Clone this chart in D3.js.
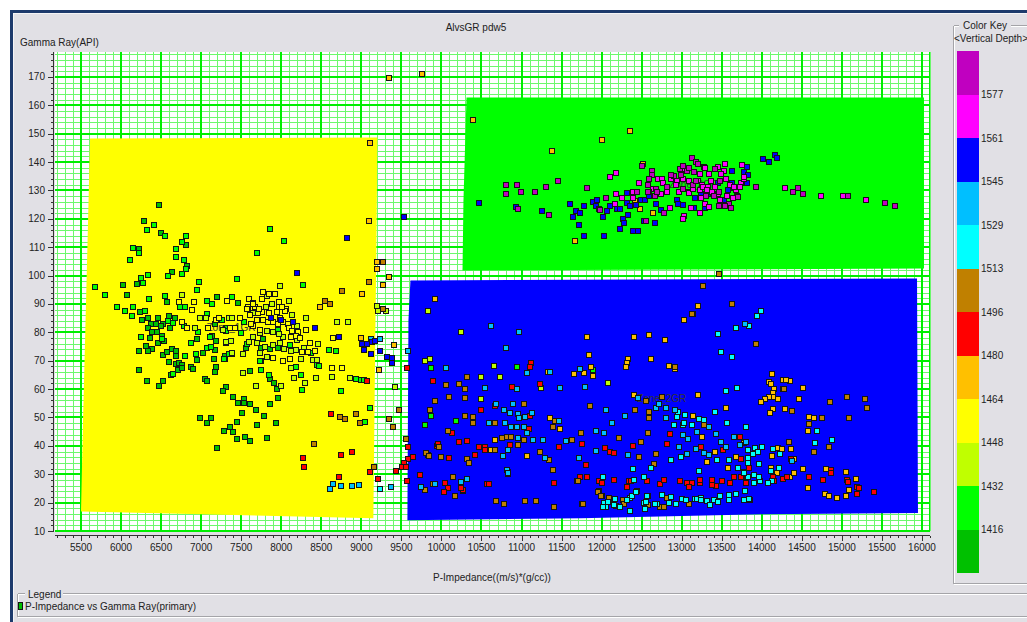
<!DOCTYPE html>
<html>
<head>
<meta charset="utf-8">
<script src="https://cdn.jsdelivr.net/npm/d3@7"></script>
<style>
  html, body { margin: 0; padding: 0; background: #ffffff; }
  svg { display: block; font-family: "Liberation Sans", Arial, sans-serif; }
</style>
</head>
<body>
<svg id="chart" width="1027" height="622"></svg>
<script>
// ---- Axis ticks ----
const impedanceTicks = d3.range(5500, 16001, 500);
const gammaTicks = d3.range(10, 171, 10);

// ---- Colour key (top to bottom) ----
const keyBreaks = [1577, 1561, 1545, 1529, 1513, 1496, 1480, 1464, 1448, 1432, 1416];
const keyColors = ["#c000c0", "#ff00ff", "#0000ff", "#00bfff", "#00ffff", "#c08000",
                   "#ff0000", "#ffc000", "#ffff00", "#c0ff00", "#00ff00", "#00c000"];

// ---- Zone outlines: [P-Impedance, Gamma Ray] ----
const zone1Outline = [[5613,148.3],[9200,148.7],[9188,108.9],[9175,80.7],[9163,49.0],[9150,14.5],[5500,16.9],[5525,49.0],[5563,91.3],[5588,119.5]];
const zone2Outline = [[9613,98.3],[15938,99.0],[15950,16.3],[13988,15.9],[11738,14.5],[9575,13.8],[9588,84.2]];
const zone3Outline = [[10313,162.8],[16025,162.8],[16025,102.5],[10263,101.8],[10275,126.5]];
const zoneNames = ["Zone_1GR", "Zone_2GR", "Zone_3GR"];
const zoneFills = ["#ffff00", "#0000ff", "#00ff00"];

// ---- Samples [P-Impedance, Gamma Ray], grouped by vertical depth ----
const depth1408 = [[6475,124.8],[6288,119.4],[6500,114.9],[6813,110.7],[6225,109.3],[6825,103.5],[6638,101.3],[6200,97.1],[6025,96.7],[6075,93.2],[6575,90.8],[6238,87.0],[6263,84.5],[6338,84.9],[6463,85.2],[6375,83.1],[6438,83.1],[6338,81.7],[6388,80.0],[6450,80.0],[6363,77.9],[6513,78.6],[6538,76.8],[6463,76.1],[6388,74.0],[6313,75.1],[6338,73.3],[6225,73.3],[6525,83.1],[6600,85.9],[6613,81.7],[6525,71.9],[6575,73.0],[6638,74.0],[6688,73.3],[6688,71.6],[6600,69.5],[6688,68.7],[6725,69.1],[6763,68.4],[6713,66.6],[6763,67.3],[6875,67.7],[6900,67.0],[6225,66.6],[6625,64.9],[6325,62.8],[6525,62.8],[6475,61.0],[6950,77.5],[6950,70.2],[7025,72.6],[7175,73.7],[7163,70.5],[7188,67.7],[7175,66.0],[7050,63.5],[7075,62.8],[7313,60.7],[7275,59.2],[6988,49.7],[7125,49.7],[7075,48.0],[7288,45.1],[7200,39.1],[7138,78.6],[7188,76.8],[7200,92.3],[7175,83.1],[7300,71.6],[6675,84.9],[6500,82.1],[7950,60.0],[7963,56.8],[7863,54.6],[7613,54.6],[7538,56.4],[7538,55.0],[7400,57.1],[7463,55.0],[7688,52.5],[7788,50.4],[7450,48.3],[7700,47.2],[7938,47.9],[7363,46.5],[7400,44.8],[7450,42.3],[7550,43.3],[7613,41.6],[7825,42.6],[7613,66.3],[7863,63.5],[7913,62.1],[7513,51.5],[7963,74.4],[7863,74.0],[7775,77.5],[7750,74.4],[7563,74.4],[7463,90.5],[7300,70.5]];
const depth1424 = [[6413,117.7],[6325,116.0],[6550,113.9],[6813,113.9],[6763,111.8],[6150,109.6],[6225,107.8],[6688,109.3],[6688,106.5],[6113,105.6],[6788,105.6],[6813,102.4],[6763,100.6],[6588,99.9],[6338,100.3],[6250,99.2],[6275,97.4],[5675,96.0],[6975,97.8],[6950,95.0],[5800,93.2],[6350,91.8],[6550,92.9],[5950,89.1],[6150,89.1],[6050,87.7],[6138,85.6],[6300,87.7],[6250,78.2],[6513,77.5],[6588,84.1],[6650,83.4],[6800,71.6],[6650,65.2],[6788,82.1],[6875,76.1],[6963,80.3],[6938,72.3],[7075,74.4],[7125,74.7],[7113,78.2],[7075,86.3],[7138,90.1],[7075,91.2],[7263,84.5],[7313,81.4],[7288,70.5],[6738,89.1],[6800,89.1],[8250,64.9],[8263,59.6],[7750,66.6],[7750,69.8],[7850,64.9],[8188,67.7],[8450,68.4],[8475,68.1],[8113,75.4],[7963,81.0],[7738,69.8],[7575,75.8],[7538,83.5],[7500,79.6],[7325,81.4],[7313,80.4],[7388,92.3],[7350,72.3],[7388,72.3],[7863,116.3],[8038,112.1],[7700,107.8],[7450,98.7],[8275,96.6],[8600,73.7],[8688,73.3],[8375,72.6],[8938,63.5],[9000,63.2],[9038,63.2],[8750,59.2],[9113,53.5],[9050,48.5],[9875,67.3],[10938,67.7],[9875,50.4],[9800,47.2],[10188,48.9],[11888,66.6]];
const depth1440 = [[6763,93.0],[6925,81.7],[6988,84.9],[7063,84.9],[7313,76.1],[7350,84.9],[7275,80.7],[7988,96.2],[7825,92.7],[8100,91.2],[7813,88.8],[7650,86.7],[8200,82.4],[8200,77.2],[8025,78.2],[7975,79.3],[7900,80.0],[7825,80.4],[7738,79.6],[7650,78.2],[7600,76.5],[7700,76.1],[7800,74.7],[7900,75.4],[7988,76.1],[8038,74.0],[8125,73.3],[8188,73.7],[8288,74.4],[8250,70.5],[7825,71.2],[7738,72.6],[7525,72.3],[7388,72.6],[7375,76.8],[7313,76.5],[7388,84.9],[7888,90.1],[8138,86.0],[8400,70.2],[8438,63.8],[8300,62.1],[8163,63.8],[8638,64.2],[8863,63.8],[8463,75.8],[8313,85.2],[8700,83.5],[8838,83.5],[8450,70.2],[7688,61.0],[8000,61.0],[7525,65.6],[8125,67.3],[9200,89.4],[9213,87.7],[9313,87.4],[9800,69.8],[9838,87.4],[9425,60.6],[10250,80.0],[9863,70.5],[10500,64.1],[10725,64.1],[10650,68.0],[11238,60.3],[10500,56.4],[12075,62.1]];
const depth1456 = [[6725,90.8],[6913,90.8],[6888,88.0],[6763,83.5],[6825,81.4],[7188,84.2],[7225,85.2],[7325,91.2],[7088,81.7],[7925,93.4],[7850,93.4],[7763,91.6],[7600,91.6],[7650,90.5],[7588,88.8],[7575,88.1],[7675,89.1],[7975,90.8],[7975,88.8],[8063,88.4],[8050,87.4],[7950,87.0],[7763,87.0],[7713,86.7],[7613,86.0],[7700,84.5],[7775,84.5],[7838,83.8],[7900,83.5],[7963,82.8],[7988,84.9],[8088,83.1],[8100,81.4],[8138,80.4],[8213,80.0],[8188,78.6],[8125,78.2],[8338,73.0],[8263,73.0],[8113,70.5],[8025,69.8],[7900,70.8],[7488,84.9],[7650,82.1],[7738,81.0],[7625,83.1],[7425,81.7],[7363,81.7],[7775,94.1],[7650,90.1],[7725,88.1],[7850,86.7],[8013,88.8],[8025,83.5],[8238,77.9],[8363,76.1],[8638,67.3],[8763,67.3],[8425,73.3],[8313,81.0],[8650,77.9]];
const depth1472 = [[9113,146.9],[9100,119.1],[9200,104.7],[9200,102.3],[9350,99.5],[9275,96.7],[9013,93.4],[8488,89.1],[9000,78.0],[9225,66.8],[9413,75.4],[9350,169.5],[9763,170.9],[10388,154.7],[12350,150.8],[12000,147.7],[11375,143.8],[12513,139.3],[11663,112.1],[12413,126.4],[12475,123.3],[12638,122.2],[9925,91.6],[11325,65.9],[11650,65.2],[10613,38.4],[10663,41.9],[11350,49.7],[11475,45.8],[11063,36.6],[13200,89.4],[13138,86.6],[13025,84.4],[12588,79.0],[12400,78.2],[12788,77.2],[11813,78.2],[11838,71.9],[12613,70.5],[12325,70.5],[12313,69.1],[12300,67.7],[12838,68.0],[12913,67.0],[11775,65.6],[11863,67.7],[11888,64.5],[12400,57.8],[13200,57.8],[13138,50.4],[13550,53.5],[13250,43.3],[13675,36.0],[13775,40.9],[13413,37.7],[13313,34.2],[13575,32.1],[14125,65.2],[14088,62.4],[14113,61.7],[14150,59.9],[14138,58.5],[14138,57.1],[14088,57.1],[14038,56.4],[13988,55.3],[14200,56.4],[14263,63.1],[14350,62.8],[14300,63.1],[14263,60.0],[14513,60.3],[14463,56.4],[14138,52.9],[14100,51.5],[14288,52.9],[14588,50.0],[14650,49.7],[14575,45.1],[14363,38.8],[14200,39.1],[14250,38.8],[14125,36.3],[14400,35.3],[14113,32.1],[14188,30.4],[14350,29.2],[14400,30.6],[14513,31.9],[14575,25.1],[14800,31.8],[14788,22.9],[14838,22.2],[14938,21.8],[15050,30.8],[15088,24.3],[15050,22.2],[15175,28.2]];
const depth1488 = [[8625,51.1],[8275,35.9],[8750,36.9],[8888,37.9],[8288,32.6],[8725,28.9],[9075,62.8],[9113,30.8],[9213,28.3],[9438,31.1],[9575,67.3],[9588,39.5],[9650,36.0],[9588,35.3],[9538,33.9],[9513,32.5],[9563,32.5],[9575,27.6],[9738,29.7],[9950,39.8],[10100,35.6],[10050,26.8],[10088,25.1],[10038,23.7],[10250,25.1],[10275,24.1],[10413,36.7],[10475,39.5],[10550,39.5],[10550,38.4],[10575,26.4],[10850,40.2],[9900,62.8],[11113,69.1],[11100,67.7],[11225,61.7],[10875,60.6],[10488,52.8],[10663,54.2],[11100,50.4],[11088,46.1],[10138,44.4],[9838,36.9],[9963,40.5],[10225,41.2],[10313,41.6],[11463,39.5],[11725,28.9],[11400,26.8],[10588,26.4],[10275,24.4],[10238,25.1],[11750,40.5],[11800,33.2],[12850,44.1],[13725,43.3],[12388,39.8],[12813,40.5],[13238,39.5],[13513,38.4],[13738,35.3],[12038,39.1],[12100,37.7],[12150,37.4],[13838,32.1],[11813,28.9],[11963,27.5],[12000,26.8],[12150,27.9],[12338,27.5],[12363,27.5],[12313,25.5],[12563,27.5],[12725,26.4],[12775,27.9],[12975,27.5],[13063,26.8],[13125,26.8],[13088,25.5],[13225,26.8],[13225,27.9],[13375,27.9],[13425,25.8],[13375,26.2],[13500,27.5],[13600,26.8],[13650,28.9],[13738,29.2],[13800,26.8],[14363,35.3],[14263,28.2],[14313,28.9],[14138,29.2],[14150,27.5],[14588,29.2],[14763,27.9],[14863,31.5],[14863,30.4],[15063,27.9],[15075,27.2],[15188,25.4],[15213,25.1],[15188,22.9],[15400,23.6]];
const depth1504 = [[9275,104.7],[9100,97.8],[8763,94.6],[8550,91.2],[8613,90.1],[9275,88.1],[8738,50.0],[8800,49.4],[8938,51.1],[8988,47.9],[9350,49.4],[8413,40.5],[9163,32.5],[9475,52.8],[9400,46.5],[9563,42.3],[9800,24.3],[9900,26.4],[9813,37.6],[9850,36.6],[10000,36.2],[10150,28.9],[10175,22.2],[10325,35.3],[10338,33.9],[10663,38.7],[10675,20.4],[10775,19.4],[10950,40.2],[10313,64.1],[10213,61.7],[10300,59.9],[10063,61.4],[10300,56.8],[10100,57.1],[9925,55.7],[9863,52.5],[10300,50.7],[10400,50.0],[10400,47.9],[11025,54.6],[11413,48.6],[11388,46.8],[10663,47.9],[10088,45.1],[9975,39.5],[10750,42.6],[10813,43.3],[10863,43.0],[11025,41.9],[11225,37.7],[11338,34.9],[11388,31.4],[11625,41.9],[11688,27.6],[11175,20.4],[11038,20.7],[11400,18.3],[11750,19.4],[13463,100.4],[13263,96.5],[13625,90.0],[13125,86.3],[12913,67.7],[12550,55.7],[12750,57.1],[12413,52.5],[11850,54.2],[12588,49.7],[12588,52.1],[13275,47.5],[11738,44.4],[12213,42.9],[12575,44.4],[12488,41.2],[12463,36.0],[12675,37.0],[12650,33.5],[11700,27.5],[11963,24.0],[12088,21.8],[12000,22.5],[11763,19.4],[12263,20.8],[12175,18.7],[12275,19.4],[12575,19.0],[12725,18.3],[12775,18.3],[12813,21.5],[13088,19.4],[13925,75.8],[14375,52.2],[14850,55.3],[15063,57.1],[15288,56.4],[15313,53.2],[15088,49.7],[14750,49.7],[14588,47.6],[14838,39.5],[14650,37.7],[14338,41.2],[14275,60.0],[11950,23.9],[11988,22.5]];
const depth1521 = [[9238,24.7],[13838,82.1],[13675,81.4],[13450,79.3],[13488,73.0],[13625,71.2],[13550,59.2],[13688,60.3],[12950,51.9],[13038,50.9],[12938,50.2],[13013,47.2],[12900,47.2],[13213,49.3],[13275,49.0],[13413,51.9],[13563,47.9],[13800,46.8],[13125,47.5],[13025,47.9],[12863,34.9],[12988,36.2],[12613,32.1],[12388,31.8],[13213,31.1],[13438,34.9],[13588,34.9],[13700,32.1],[13825,33.9],[13775,30.7],[13825,38.4],[12013,28.9],[12400,27.9],[12525,28.9],[13813,29.2],[12025,19.7],[12050,18.3],[12013,18.3],[12075,20.1],[12150,21.2],[12350,21.5],[12350,17.2],[12438,24.0],[12525,19.7],[12538,17.6],[12575,22.2],[12688,19.4],[12750,22.6],[12838,19.8],[12863,21.9],[12925,19.4],[13000,21.2],[13050,20.8],[13163,21.2],[13188,21.2],[13238,21.5],[13238,20.8],[13313,20.4],[13350,19.0],[13400,20.8],[13450,20.1],[13475,22.2],[13588,20.8],[13588,22.6],[13675,22.9],[13775,20.8],[13850,20.8],[13788,24.0],[13988,87.7],[13938,85.6],[14688,45.4],[14875,41.9],[14663,40.9],[14138,38.8],[14225,37.0],[14000,39.5],[13913,39.1],[13950,37.7],[13888,37.0],[13825,35.9],[13963,33.5],[14213,32.1],[14113,31.1],[14125,27.5],[14075,26.8],[13975,27.5],[13900,26.8],[13963,29.2],[13900,29.9],[13825,29.2],[13775,30.3],[13838,21.2],[12163,21.2],[12225,18.3],[12150,19.0],[12313,20.8],[12375,22.2],[12425,23.6],[12550,20.1],[12663,19.4],[12563,22.2]];
const depth1537 = [[9125,77.7],[9238,77.7],[9588,73.3],[8750,25.8],[8888,25.8],[8975,26.1],[8613,24.7],[8650,26.4],[9375,25.4],[9750,25.4],[9925,26.4],[10313,28.5],[10763,36.6],[10825,38.4],[10825,30.0],[10825,30.7],[10613,82.4],[10963,80.0],[10800,74.4],[10063,67.3],[11063,65.6],[11350,65.9],[11725,67.0],[11475,60.3],[10938,59.9],[10550,60.3],[10675,54.9],[10775,52.5],[10888,54.9],[10850,51.5],[10950,51.1],[10963,49.7],[11038,50.0],[11125,51.5],[11463,48.6],[10588,47.9],[10788,48.2],[10863,46.5],[10938,46.5],[11025,46.8],[11063,44.4],[10950,42.6],[11138,41.9],[11263,41.9],[11288,35.6],[11550,41.6],[10813,31.4],[10825,30.3],[10325,28.2],[10250,27.1],[13788,82.8],[11788,60.7],[12450,56.8],[12675,53.5],[12713,54.6],[12800,53.2],[12913,52.8],[12050,52.5],[12288,50.4],[12125,48.2],[12800,49.7],[13338,46.8],[11925,45.4],[12025,44.4],[13013,43.7],[13075,42.3],[13188,44.8],[13425,44.1],[13650,43.3],[13800,41.2],[12963,39.5],[13063,37.0],[13175,38.8],[13275,37.4],[13338,36.7],[13488,41.2],[13550,39.5],[13725,40.2],[11925,38.1],[11713,35.9],[12325,36.7],[14375,34.6]];
const depth1553 = [[8825,113.1],[8200,100.8],[7875,85.2],[8150,83.5],[8425,81.4],[8725,78.2],[8000,84.5],[9538,120.8],[9013,75.8],[9075,75.8],[9138,76.5],[9175,76.8],[9038,73.7],[9125,72.3],[9238,73.3],[9325,71.2],[9388,70.8],[9388,69.1],[10463,125.7],[10925,124.3],[11250,122.6],[11600,125.4],[11638,120.8],[11713,117.7],[11775,114.1],[12025,114.1],[11675,122.6],[11725,121.9],[11775,124.7],[11888,126.1],[11938,126.5],[11925,124.7],[11963,123.6],[12013,120.8],[12063,122.6],[12100,124.7],[12188,123.3],[12225,123.6],[12313,129.0],[12313,125.7],[12263,120.1],[12325,121.2],[12275,118.4],[12225,116.3],[12388,115.6],[12450,115.6],[12525,119.1],[12663,118.4],[12350,124.7],[12425,125.0],[12488,126.5],[12538,126.8],[12588,127.9],[12675,125.4],[12738,123.0],[12938,126.8],[12950,125.4],[13013,125.0],[13088,129.3],[13163,127.5],[13238,128.9],[13288,124.0],[13325,128.6],[13325,131.1],[13450,132.8],[13525,126.5],[13575,130.0],[13638,130.7],[13675,130.4],[13625,132.8],[13625,136.7],[13775,136.4],[13825,135.3],[13813,138.1],[13813,132.5],[13688,128.2],[14013,141.0],[14088,139.9],[14163,142.4],[14188,141.3],[13150,124.0]];
const depth1569 = [[12100,134.9],[12175,136.0],[12463,132.8],[12700,133.9],[12750,133.9],[12638,130.4],[12738,128.6],[12813,129.3],[12863,133.9],[12938,133.5],[13013,133.9],[13088,133.2],[13025,137.4],[13275,138.1],[13288,137.8],[13225,135.7],[13200,133.2],[13250,131.8],[13338,135.7],[13363,133.5],[13450,138.1],[13538,139.5],[13525,136.7],[13488,135.7],[13413,131.1],[13375,129.6],[13450,128.6],[13325,131.4],[13288,125.4],[13475,126.8],[13563,128.2],[13638,127.5],[13675,130.0],[13738,132.8],[13775,134.2],[13750,139.1],[13338,124.3],[13225,122.2],[13025,121.1],[13013,120.1],[13113,124.0],[12850,124.0],[12388,129.3],[12588,129.3],[12388,127.2],[12175,128.9],[12250,127.2],[12163,125.4],[12925,131.8],[12763,132.8],[12963,129.6],[13088,129.0],[13138,130.4],[13225,130.0],[13263,131.1],[13313,130.0],[13238,127.5],[13550,133.9],[13600,132.1],[13650,131.1],[13725,131.1],[13775,134.6],[14288,130.7],[14738,127.9],[15013,128.2],[15300,126.8]];
const depth1585 = [[12500,138.5],[12625,136.7],[12625,135.3],[12588,133.9],[12575,132.1],[12575,129.6],[12663,127.9],[12813,131.1],[12900,135.0],[12988,135.3],[12975,137.4],[13013,138.5],[13125,141.6],[13175,140.2],[13200,139.5],[13063,136.7],[13088,137.8],[13150,136.4],[13413,137.4],[13475,133.2],[13300,128.2],[13400,127.9],[13463,124.7],[13588,125.4],[13700,127.7],[13613,123.9],[13538,124.7],[12438,129.3],[12050,127.2],[11975,123.0],[12550,119.4],[12775,122.2],[12863,135.3],[13013,130.4],[13138,132.1],[13175,133.2],[13463,129.3],[12675,130.4],[12688,129.3],[10800,132.1],[10938,131.8],[10800,128.6],[10988,129.3],[11163,129.3],[11300,131.4],[11450,133.5],[11813,130.7],[11338,121.5],[10950,123.6],[13925,131.1],[14388,129.6],[14450,130.7],[14513,128.6],[15075,127.9],[15538,125.7],[15663,124.7]];

const depthSamples = [
  [1408, depth1408], [1424, depth1424], [1440, depth1440], [1456, depth1456],
  [1472, depth1472], [1488, depth1488], [1504, depth1504], [1521, depth1521],
  [1537, depth1537], [1553, depth1553], [1569, depth1569], [1585, depth1585]
];

// ---- Scales ----
const x = d3.scaleLinear().domain([5175, 16100]).range([55, 930]);
const y = d3.scaleLinear().domain([10, 178.8]).range([531, 52]);
const depthColor = d3.scaleThreshold()
  .domain(keyBreaks.slice().reverse())
  .range(keyColors.slice().reverse());

const svg = d3.select("#chart");

// ---- Window frame and panel ----
svg.append("rect").attr("width", 1027).attr("height", 622).attr("fill", "#ffffff");
svg.append("rect").attr("x", 10).attr("y", 10).attr("width", 1017).attr("height", 612).attr("fill", "#1d3a6c");
svg.append("rect").attr("x", 13).attr("y", 13).attr("width", 1014).attr("height", 609).attr("fill", "#f4f4f6");
svg.append("rect").attr("x", 14).attr("y", 14).attr("width", 1013).attr("height", 608).attr("fill", "#e1e0e5");

// ---- Titles ----
svg.append("text").attr("x", 476).attr("y", 31).attr("text-anchor", "middle")
  .attr("font-size", 10).attr("fill", "#222").text("AlvsGR pdw5");
svg.append("text").attr("x", 20).attr("y", 46)
  .attr("font-size", 10).attr("fill", "#222").text("Gamma Ray(API)");
svg.append("text").attr("x", 492).attr("y", 581).attr("text-anchor", "middle")
  .attr("font-size", 10).attr("fill", "#222").text("P-Impedance((m/s)*(g/cc))");

// ---- Plot background and grid ----
const [x0, x1] = x.range();
const [yb, yt] = y.range();
const plot = svg.append("g").attr("shape-rendering", "crispEdges");
plot.append("rect").attr("x", x0).attr("y", yt).attr("width", x1 - x0).attr("height", yb - yt).attr("fill", "#ffffff");

const xMinor = d3.range(5200, 16101, 100).filter(v => v % 500 !== 0);
const xMajor = d3.range(5500, 16001, 500);
const yMinor = d3.range(12, 178.8, 2).filter(v => v % 10 !== 0);
const yMajor = d3.range(10, 178.8, 10);

plot.selectAll("line.xminor").data(xMinor).join("line")
  .attr("x1", d => Math.round(x(d)) + 0.5).attr("x2", d => Math.round(x(d)) + 0.5)
  .attr("y1", yt).attr("y2", yb).attr("stroke", "#6cf86c").attr("stroke-width", 1);
plot.selectAll("line.yminor").data(yMinor).join("line")
  .attr("y1", d => Math.round(y(d)) + 0.5).attr("y2", d => Math.round(y(d)) + 0.5)
  .attr("x1", x0).attr("x2", x1).attr("stroke", "#6cf86c").attr("stroke-width", 1);
plot.selectAll("line.xmajor").data(xMajor).join("line")
  .attr("x1", d => Math.round(x(d))).attr("x2", d => Math.round(x(d)))
  .attr("y1", yt).attr("y2", yb).attr("stroke", "#00ee00").attr("stroke-width", 2);
plot.selectAll("line.ymajor").data(yMajor).join("line")
  .attr("y1", d => Math.round(y(d))).attr("y2", d => Math.round(y(d)))
  .attr("x1", x0).attr("x2", x1).attr("stroke", "#00ee00").attr("stroke-width", 2);
plot.append("line").attr("x1", x1 - 0.5).attr("x2", x1 - 0.5).attr("y1", yt).attr("y2", yb)
  .attr("stroke", "#00ee00").attr("stroke-width", 1);

// ---- Zones ----
const zones = [zone1Outline, zone2Outline, zone3Outline];
const zoneLayer = svg.append("g");
zoneLayer.selectAll("polygon").data(zones).join("polygon")
  .attr("points", d => d.map(p => [x(p[0]), y(p[1])].join(",")).join(" "))
  .attr("fill", (d, i) => zoneFills[i]);
zoneLayer.selectAll("text").data(zones).join("text")
  .attr("x", d => x(d3.polygonCentroid(d)[0]))
  .attr("y", d => y(d3.polygonCentroid(d)[1]) + 4)
  .attr("text-anchor", "middle").attr("font-size", 10).attr("fill", "#333")
  .text((d, i) => zoneNames[i]);

// ---- Samples ----
const samples = depthSamples.flatMap(([depth, list]) =>
  list.map(([imp, gr]) => ({ imp, gr, depth })));
svg.append("g").attr("shape-rendering", "crispEdges")
  .selectAll("rect").data(samples).join("rect")
  .attr("x", d => Math.round(x(d.imp)) - 2.5)
  .attr("y", d => Math.round(y(d.gr)) - 2.5)
  .attr("width", 5).attr("height", 5)
  .attr("fill", d => depthColor(d.depth))
  .attr("stroke", "#141414").attr("stroke-width", 1);

// ---- Axes ----
const axes = svg.append("g").attr("shape-rendering", "crispEdges");
const yAxisX = 53.5;
axes.append("line").attr("x1", yAxisX).attr("x2", yAxisX).attr("y1", yt).attr("y2", yb).attr("stroke", "#333");
axes.selectAll("line.ytick").data(d3.range(10, 178.8, 2)).join("line")
  .attr("x1", d => d % 10 === 0 ? yAxisX - 6 : yAxisX - 3).attr("x2", yAxisX)
  .attr("y1", d => Math.round(y(d)) + 0.5).attr("y2", d => Math.round(y(d)) + 0.5)
  .attr("stroke", "#333");
svg.selectAll("text.ylab").data(gammaTicks).join("text")
  .attr("x", 45).attr("y", d => y(d) + 3.5).attr("text-anchor", "end")
  .attr("font-size", 10).attr("fill", "#222").text(d => d);

const xAxisY = 535.5;
axes.append("line").attr("x1", x0).attr("x2", x1).attr("y1", xAxisY).attr("y2", xAxisY).attr("stroke", "#333");
axes.selectAll("line.xtick").data(d3.range(5200, 16101, 100)).join("line")
  .attr("x1", d => Math.round(x(d)) + 0.5).attr("x2", d => Math.round(x(d)) + 0.5)
  .attr("y1", xAxisY).attr("y2", d => d % 500 === 0 ? xAxisY + 5 : xAxisY + 2.5)
  .attr("stroke", "#333");
svg.selectAll("text.xlab").data(impedanceTicks).join("text")
  .attr("x", d => x(d)).attr("y", 551).attr("text-anchor", "middle")
  .attr("font-size", 10).attr("fill", "#222").text(d => d);

// ---- Group boxes ----
function etched(g, x1, y1, x2, y2) {
  g.append("line").attr("x1", x1).attr("y1", y1).attr("x2", x2).attr("y2", y2).attr("stroke", "#a4a4a8");
  g.append("line").attr("x1", x1 + (x1 === x2 ? 1 : 0)).attr("y1", y1 + (y1 === y2 ? 1 : 0))
    .attr("x2", x2 + (x1 === x2 ? 1 : 0)).attr("y2", y2 + (y1 === y2 ? 1 : 0)).attr("stroke", "#ffffff");
}
const boxes = svg.append("g").attr("shape-rendering", "crispEdges");
// colour key box
etched(boxes, 953.5, 25.5, 953.5, 583.5);
etched(boxes, 953.5, 583.5, 1027, 583.5);
etched(boxes, 953.5, 25.5, 959, 25.5);
etched(boxes, 1011, 25.5, 1027, 25.5);
// legend box
etched(boxes, 17.5, 593.5, 17.5, 616.5);
etched(boxes, 17.5, 593.5, 25, 593.5);
etched(boxes, 63, 593.5, 1027, 593.5);
etched(boxes, 17.5, 616.5, 1027, 616.5);

// ---- Colour key ----
svg.append("text").attr("x", 985).attr("y", 29).attr("text-anchor", "middle")
  .attr("font-size", 10).attr("fill", "#222").text("Color Key");
svg.append("text").attr("x", 991).attr("y", 42).attr("text-anchor", "middle")
  .attr("font-size", 10).attr("fill", "#222").text("<Vertical Depth>");
const keyY = d3.scaleLinear().domain([0, keyColors.length]).range([51, 573]);
svg.append("g").attr("shape-rendering", "crispEdges")
  .selectAll("rect").data(keyColors).join("rect")
  .attr("x", 957).attr("width", 22)
  .attr("y", (d, i) => keyY(i)).attr("height", (d, i) => keyY(i + 1) - keyY(i))
  .attr("fill", d => d);
svg.selectAll("text.keylab").data(keyBreaks).join("text")
  .attr("x", 981).attr("y", (d, i) => keyY(i + 1) + 3.5)
  .attr("font-size", 10).attr("fill", "#222").text(d => d);

// ---- Legend ----
svg.append("text").attr("x", 28).attr("y", 597.5).attr("font-size", 10).attr("fill", "#222").text("Legend");
svg.append("rect").attr("x", 18.5).attr("y", 602.5).attr("width", 4).attr("height", 7)
  .attr("fill", "#00c000").attr("stroke", "#141414").attr("shape-rendering", "crispEdges");
svg.append("text").attr("x", 25).attr("y", 609.5).attr("font-size", 10).attr("fill", "#222")
  .text("P-Impedance vs Gamma Ray(primary)");
</script>
</body>
</html>
